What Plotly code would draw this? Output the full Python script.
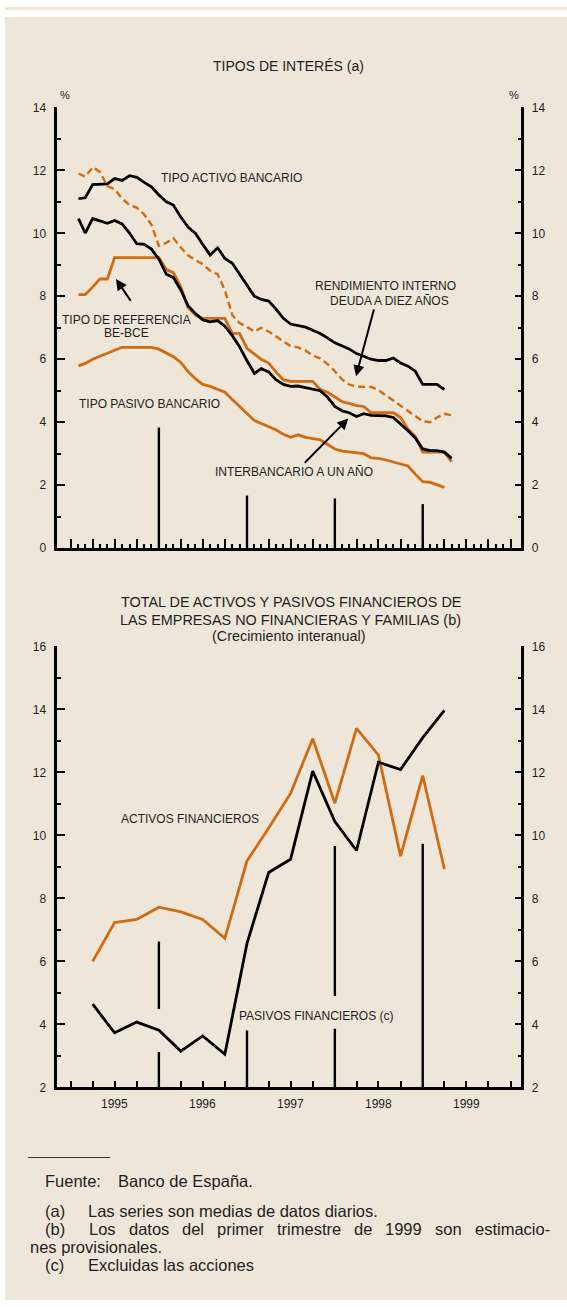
import pandas as pd
import plotly.graph_objects as go

W, H = 567, 1307

# ---------------- DATA ----------------
# Monthly averages, Jan-1995 onwards
months = pd.period_range("1995-01", "1999-04", freq="M")

tipo_activo_bancario = [
    11.10, 11.13, 11.55, 11.57, 11.57, 11.74, 11.68, 11.83, 11.78, 11.62,
    11.48, 11.22, 11.00, 10.90, 10.52, 10.20, 10.00, 9.65, 9.31, 9.54,
    9.20, 9.05, 8.70, 8.35, 8.00, 7.90, 7.85, 7.60, 7.30, 7.12,
    7.07, 7.02, 6.92, 6.82, 6.68, 6.52, 6.42, 6.33, 6.18, 6.08,
    6.00, 5.96, 5.96, 6.04, 5.88, 5.78, 5.62, 5.20, 5.20, 5.20, 5.04]

tipo_pasivo_bancario = [
    5.79, 5.87, 6.00, 6.10, 6.18, 6.30, 6.38, 6.38, 6.38, 6.38,
    6.38, 6.32, 6.19, 6.08, 5.90, 5.61, 5.38, 5.20, 5.14, 5.05,
    4.95, 4.72, 4.50, 4.25, 4.05, 3.96, 3.85, 3.76, 3.62, 3.52,
    3.60, 3.52, 3.48, 3.44, 3.30, 3.15, 3.08, 3.05, 3.03, 3.00,
    2.87, 2.85, 2.80, 2.73, 2.67, 2.61, 2.35, 2.11, 2.09, 2.02, 1.93]

tipo_referencia_be_bce = [
    8.05, 8.05, 8.30, 8.55, 8.55, 9.23, 9.23, 9.23, 9.23, 9.23,
    9.23, 9.23, 8.85, 8.75, 8.30, 7.65, 7.40, 7.30, 7.30, 7.30,
    7.30, 6.82, 6.82, 6.35, 6.15, 6.00, 5.88, 5.60, 5.35, 5.30,
    5.30, 5.30, 5.30, 5.04, 4.95, 4.80, 4.65, 4.60, 4.53, 4.50,
    4.30, 4.30, 4.30, 4.30, 4.15, 3.78, 3.55, 3.05, 3.05, 3.05,
    3.05, 2.75]

interbancario_un_ano = [
    10.47, 10.01, 10.47, 10.40, 10.32, 10.41, 10.30, 10.01, 9.67, 9.65,
    9.50, 9.18, 8.70, 8.60, 8.20, 7.70, 7.45, 7.25, 7.19, 7.23,
    7.05, 6.75, 6.40, 5.95, 5.55, 5.70, 5.60, 5.35, 5.20, 5.14,
    5.15, 5.10, 5.04, 5.00, 4.80, 4.50, 4.36, 4.30, 4.18, 4.27,
    4.22, 4.20, 4.20, 4.15, 3.95, 3.73, 3.50, 3.15, 3.10, 3.10,
    3.05, 2.85]

rendimiento_deuda_diez_anos = [
    11.90, 11.80, 12.10, 11.95, 11.50, 11.40, 11.10, 10.90, 10.82, 10.60,
    10.28, 9.60, 9.70, 9.85, 9.55, 9.30, 9.15, 9.02, 8.81, 8.70,
    8.20, 7.40, 7.15, 7.03, 6.88, 7.00, 6.88, 6.72, 6.58, 6.42,
    6.38, 6.28, 6.12, 6.03, 5.85, 5.62, 5.35, 5.20, 5.13, 5.12,
    5.12, 5.02, 4.85, 4.70, 4.52, 4.35, 4.18, 4.03, 4.00, 4.15,
    4.27, 4.22]

# Quarterly year-on-year growth, 1995Q1 .. 1999Q1
quarters = pd.period_range("1995Q1", "1999Q1", freq="Q")
activos_financieros = [6.00, 7.23, 7.33, 7.72, 7.57, 7.33, 6.73, 9.19, 10.23,
                       11.33, 13.07, 11.02, 13.40, 12.55, 9.34, 11.90, 8.93]
pasivos_financieros = [4.64, 3.73, 4.07, 3.81, 3.15, 3.63, 3.05, 6.57, 8.82,
                       9.24, 12.04, 10.44, 9.52, 12.32, 12.09, 13.10, 13.97]

years = [1995, 1996, 1997, 1998, 1999]

# ---------------- STYLE / GEOMETRY ----------------
BEIGE = "#EEE6D8"
ORANGE = "#D26A12"
INK = "#1E1E1E"
REG = "Liberation Sans, Arial, sans-serif"

XL, XR = 57.3, 520.7
TOP_B, TOP_T = 547.0, 101.5
BOT_B, BOT_T = 1092.0, 646.3
X_RANGE = ["1994-11-05", "2000-02-12"]

# Arial / Liberation Sans advance widths (per 1000 em), used to justify a footnote line
ARIAL_W = {" ": 278, "-": 333, "(": 333, ")": 333, ".": 278}
ARIAL_W.update({c: 556 for c in "0123456789abdeghnopqu"})
ARIAL_W.update({c: 500 for c in "cksvxyz"})
ARIAL_W.update({"f": 278, "t": 278, "i": 222, "j": 222, "l": 222, "m": 833,
                "r": 333, "w": 722, "L": 556})


def text_width(s, size):
    return sum(ARIAL_W.get(c, 556) for c in s) * size / 1000


def fx(p):
    return p / W


def fy(p):
    return 1 - p / H


mx = (months + 1).to_timestamp()      # monthly points drawn at month end
qx = (quarters + 1).to_timestamp()    # quarterly points drawn at quarter end
month_ticks = pd.date_range("1995-01-01", "2000-01-01", freq="MS")
quarter_ticks = pd.date_range("1995-01-01", "2000-01-01", freq="QS")

fig = go.Figure()


def line(x, y, color, xa, ya, dash="solid", width=2.8):
    fig.add_trace(go.Scatter(x=x[:len(y)], y=y, mode="lines", xaxis=xa, yaxis=ya,
                             line=dict(color=color, width=width, dash=dash),
                             hoverinfo="skip", showlegend=False))


line(mx, tipo_pasivo_bancario, ORANGE, "x", "y")
line(mx, rendimiento_deuda_diez_anos, ORANGE, "x", "y", dash="7px,4px", width=2.4)
line(mx, tipo_referencia_be_bce, ORANGE, "x", "y")
line(mx, interbancario_un_ano, "black", "x", "y")
line(mx, tipo_activo_bancario, "black", "x", "y3")   # same scale, right-hand axis

line(qx, activos_financieros, ORANGE, "x2", "y2")
line(qx, pasivos_financieros, "black", "x2", "y4")  # same scale, right-hand axis

tickfont = dict(family=REG, size=12, color=INK)


def xaxis(anchor, major_len, minor=None):
    d = dict(domain=[fx(XL), fx(XR)], anchor=anchor, type="date", range=X_RANGE,
             showline=True, linecolor="black", linewidth=2.5, showgrid=False,
             zeroline=False, ticks="inside", tickmode="array",
             tickvals=list(quarter_ticks), ticklen=major_len, tickwidth=2,
             tickcolor="black", showticklabels=False, fixedrange=True)
    if minor:
        d["minor"] = minor
    return d


def yaxis(dom, rng, anchor, side, major_len, minor_len, overlay=None):
    d = dict(domain=dom, anchor=anchor, range=rng, side=side, tickmode="linear",
             tick0=0, dtick=2, ticks="inside", ticklen=major_len, tickwidth=2,
             tickcolor="black", showline=True, linecolor="black", linewidth=2.5,
             showgrid=False, zeroline=False, tickfont=tickfont,
             ticklabelstandoff=6, fixedrange=True,
             minor=dict(tickmode="linear", tick0=0, dtick=1, ticks="inside",
                        ticklen=minor_len, tickwidth=2, tickcolor="black"))
    if overlay:
        d["overlaying"] = overlay
    return d


top_dom = [fy(TOP_B), fy(TOP_T)]
bot_dom = [fy(BOT_B), fy(BOT_T)]

fig.update_layout(
    width=W, height=H, margin=dict(l=0, r=0, t=0, b=0),
    paper_bgcolor="white", plot_bgcolor="rgba(0,0,0,0)",
    showlegend=False,
    xaxis=xaxis("y", 9, minor=dict(tickmode="array", tickvals=list(month_ticks),
                                   ticks="inside", ticklen=4.5, tickwidth=1.6,
                                   tickcolor="black")),
    yaxis=yaxis(top_dom, [0, 14], "x", "left", 8, 4),
    yaxis3=yaxis(top_dom, [0, 14], "x", "right", 6, 2.5, overlay="y"),
    xaxis2=xaxis("y2", 7),
    yaxis2=yaxis(bot_dom, [2, 16], "x2", "left", 8, 4),
    yaxis4=yaxis(bot_dom, [2, 16], "x2", "right", 6, 2.5, overlay="y2"),
)

shapes = []
# page background
shapes.append(dict(type="rect", xref="paper", yref="paper", x0=fx(5), x1=1,
                   y0=0, y1=fy(10), fillcolor=BEIGE, line_width=0, layer="below"))
shapes.append(dict(type="rect", xref="paper", yref="paper", x0=fx(5), x1=1,
                   y0=fy(3), y1=1, fillcolor=BEIGE, line_width=0, layer="below"))

# year separators (decorative), heights in axis units
top_separators = {1996: [(0, 3.83)], 1997: [(0, 1.67)], 1998: [(0, 1.58)], 1999: [(0, 1.40)]}
bot_separators = {1996: [(2, 3.12), (4.49, 6.63)], 1997: [(2, 3.80)],
                  1998: [(2, 3.86), (4.90, 9.66)], 1999: [(2, 9.73)]}
for yr, segs in top_separators.items():
    for a, b in segs:
        shapes.append(dict(type="line", xref="x", yref="y", x0=f"{yr}-01-01",
                           x1=f"{yr}-01-01", y0=a, y1=b,
                           line=dict(color="black", width=2.4)))
for yr, segs in bot_separators.items():
    for a, b in segs:
        shapes.append(dict(type="line", xref="x2", yref="y2", x0=f"{yr}-01-01",
                           x1=f"{yr}-01-01", y0=a, y1=b,
                           line=dict(color="black", width=2.4)))
# footnote rule
shapes.append(dict(type="line", xref="paper", yref="paper", x0=fx(28), x1=fx(110),
                   y0=fy(1163), y1=fy(1163), line=dict(color="#333333", width=1)))
fig.update_layout(shapes=shapes)

ann = []


def text(t, x, y, size=12, family=REG, xanchor="center"):
    ann.append(dict(text=t, x=fx(x), y=fy(y), xref="paper", yref="paper",
                    showarrow=False, xanchor=xanchor, yanchor="middle",
                    font=dict(family=family, size=size, color=INK)))


def arrow(tail, head):
    ann.append(dict(text="", x=fx(head[0]), y=fy(head[1]), xref="paper", yref="paper",
                    ax=tail[0] - head[0], ay=tail[1] - head[1], showarrow=True,
                    arrowhead=2, arrowsize=1.1, arrowwidth=2, arrowcolor="black"))


# titles
text("TIPOS DE INTERÉS (a)", 288, 60, 14)
text("%", 65, 89, 11)
text("%", 514, 89, 11)
text("TOTAL DE ACTIVOS Y PASIVOS FINANCIEROS DE", 290.5, 601.7, 14.4)
text("LAS EMPRESAS NO FINANCIERAS Y FAMILIAS (b)", 290, 619.3, 14.4)
text("(Crecimiento interanual)", 289, 636, 14.4)

# series labels
text("TIPO ACTIVO BANCARIO", 231.7, 173.3)
text("TIPO DE REFERENCIA", 126.7, 316.7)
text("BE-BCE", 126.7, 330)
text("TIPO PASIVO BANCARIO", 149.7, 401.7)
text("INTERBANCARIO A UN AÑO", 293.8, 470)
text("RENDIMIENTO INTERNO", 385.7, 281.7)
text("DEUDA A DIEZ AÑOS", 389, 297.3)
arrow((131.7, 298.3), (116, 275))
arrow((303.3, 461.7), (348.3, 416))
arrow((374.3, 305), (356, 373.3))

text("ACTIVOS FINANCIEROS", 190, 820.7)
text("PASIVOS FINANCIEROS (c)", 315.5, 1020)

# year labels of lower panel
for yr in years:
    ann.append(dict(text=str(yr), x=f"{yr}-07-02", xref="x2", y=fy(1109), yref="paper",
                    showarrow=False, xanchor="center", yanchor="middle",
                    font=dict(family=REG, size=12, color=INK)))

# footnotes
FN = 16.5
text("Fuente:", 43, 1187, FN, xanchor="left")
text("Banco de España.", 116, 1187, FN, xanchor="left")
text("(a)", 43, 1217, FN, xanchor="left")
text("Las series son medias de datos diarios.", 86, 1217, FN, xanchor="left")
text("(b)", 43, 1235, FN, xanchor="left")
# justified line (b): spread words between x=87 and x=548
words_b = "Los datos del primer trimestre de 1999 son estimacio-".split()
x0_b, x1_b = 87, 548
gap = (x1_b - x0_b - sum(text_width(w, FN) for w in words_b)) / (len(words_b) - 1)
xpos = x0_b
for w in words_b:
    text(w, xpos, 1235, FN, xanchor="left")
    xpos += text_width(w, FN) + gap
text("nes provisionales.", 28, 1253, FN, xanchor="left")
text("(c)", 43, 1272, FN, xanchor="left")
text("Excluidas las acciones", 86, 1272, FN, xanchor="left")

fig.update_layout(annotations=ann)
fig.write_html("out.html", config={"displayModeBar": False},
               post_script="document.body.style.margin='0';"
                           "document.body.style.overflow='hidden';")
